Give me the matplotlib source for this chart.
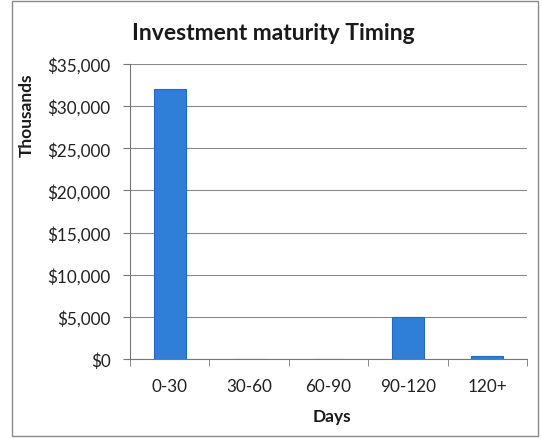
import matplotlib
matplotlib.use("Agg")
import matplotlib.pyplot as plt
from matplotlib.ticker import FuncFormatter, FixedLocator
import numpy as np

categories = ["0-30", "30-60", "60-90", "90-120", "120+"]
values = [32000, 0, 0, 4950, 350]  # thousands of dollars
y_ticks = [0, 5000, 10000, 15000, 20000, 25000, 30000, 35000]

plt.rcParams["font.family"] = ["Lato", "DejaVu Sans"]

fig = plt.figure(figsize=(5.42, 4.39), dpi=100)
fig.patch.set_facecolor("white")

# outer chart frame
frame = plt.Rectangle((12 / 542, 2 / 439), 526 / 542, 435 / 439,
                      transform=fig.transFigure, fill=False,
                      edgecolor="#8a8a8a", linewidth=1.0)
fig.add_artist(frame)

ax = fig.add_axes([130 / 542, 1 - 360 / 439, 397 / 542, 295 / 439])
x = np.arange(len(categories))
ax.bar(x, values, width=0.4, color="#2f7fd9", edgecolor="#2468c0",
       linewidth=0.8, zorder=3)

ax.set_xlim(-0.5, len(categories) - 0.5)
ax.set_ylim(0, 35000)
ax.set_yticks(y_ticks)
ax.yaxis.set_major_formatter(FuncFormatter(lambda v, p: f"${v:,.0f}"))
ax.set_xticks(x)
ax.set_xticklabels(categories)
ax.tick_params(axis="x", length=0, pad=14, labelsize=12.3, labelcolor="#222222")
ax.tick_params(axis="y", length=5, direction="out", color="#777777",
               labelsize=12.3, labelcolor="#222222", pad=9)
# category boundary tick marks on the x axis
ax.xaxis.set_minor_locator(FixedLocator(np.arange(-0.5, len(categories), 1.0)))
ax.tick_params(axis="x", which="minor", length=5, direction="out", color="#777777")

ax.grid(axis="y", color="#8a8a8a", linewidth=0.8, zorder=0)
for side in ["top", "right"]:
    ax.spines[side].set_visible(False)
ax.spines["left"].set_color("#777777")
ax.spines["bottom"].set_color("#777777")

fig.text(273 / 542, 1 - 33 / 439, "Investment maturity Timing",
         ha="center", va="center", fontsize=16.5, fontweight="bold",
         color="#1a1a1a")
fig.text(27 / 542, 1 - 115 / 439, "Thousands", rotation=90,
         ha="center", va="center", fontsize=12.5, fontweight="bold",
         color="#1a1a1a")
fig.text(332 / 542, 1 - 417 / 439, "Days", ha="center", va="center",
         fontsize=12.5, fontweight="bold", color="#1a1a1a")

fig.savefig("out.png", dpi=100, facecolor="white")
